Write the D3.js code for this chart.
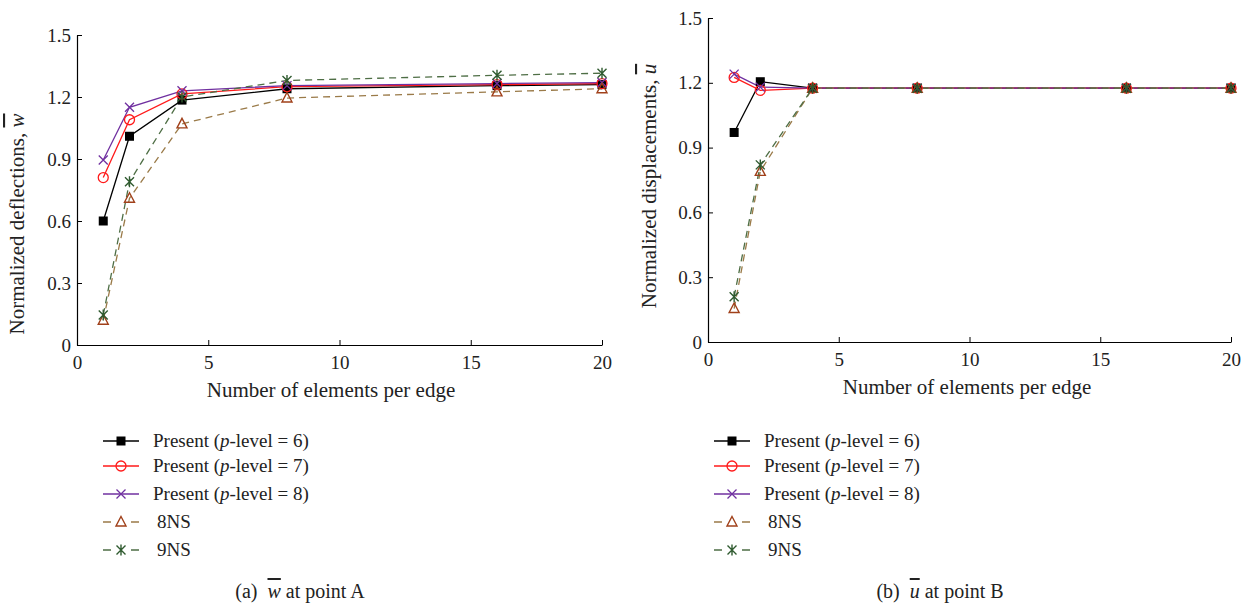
<!DOCTYPE html>
<html><head><meta charset="utf-8">
<script src="https://cdn.jsdelivr.net/npm/d3@7"></script>
<style>
body{margin:0;background:#fff;}
text{font-family:"Liberation Serif","DejaVu Serif",serif;fill:#222;}
</style></head>
<body><svg id="c" width="1251" height="607"></svg>
<script>
const elements = [1, 2, 4, 8, 16, 20];
const xTicks = [0, 5, 10, 15, 20];
const yTicks = [0, 0.3, 0.6, 0.9, 1.2, 1.5];
const yTickLabels = ["0", "0.3", "0.6", "0.9", "1.2", "1.5"];

// (a) normalized deflections at point A
const wP6 = [0.60, 1.01, 1.185, 1.24, 1.255, 1.26];
const wP7 = [0.81, 1.09, 1.215, 1.25, 1.26, 1.265];
const wP8 = [0.895, 1.15, 1.23, 1.255, 1.265, 1.27];
const w8NS = [0.12, 0.71, 1.07, 1.195, 1.225, 1.24];
const w9NS = [0.145, 0.79, 1.20, 1.28, 1.305, 1.315];

// (b) normalized displacements at point B
const uP6 = [0.97, 1.205, 1.175, 1.175, 1.175, 1.175];
const uP7 = [1.225, 1.165, 1.175, 1.175, 1.175, 1.175];
const uP8 = [1.24, 1.18, 1.175, 1.175, 1.175, 1.175];
const u8NS = [0.155, 0.79, 1.175, 1.175, 1.175, 1.175];
const u9NS = [0.21, 0.82, 1.175, 1.175, 1.175, 1.175];

const seriesNames = ["Present (p-level = 6)", "Present (p-level = 7)", "Present (p-level = 8)", "8NS", "9NS"];

const styles = [
  {line:"#000000", mark:"#000000", dash:null, m:"square"},
  {line:"#ff1a1a", mark:"#ff1a1a", dash:null, m:"circle"},
  {line:"#7030a0", mark:"#7030a0", dash:null, m:"x"},
  {line:"#9a7a48", mark:"#a0401a", dash:"7,5", m:"tri"},
  {line:"#4e6e45", mark:"#2f5a2f", dash:"7,5", m:"star"}
];

const svg = d3.select("#c");

function marker(g, type, cx, cy, col){
  if(type==="square"){
    g.append("rect").attr("x",cx-4.5).attr("y",cy-4.5).attr("width",9).attr("height",9).attr("fill",col);
  } else if(type==="circle"){
    g.append("circle").attr("cx",cx).attr("cy",cy).attr("r",5).attr("fill","none").attr("stroke",col).attr("stroke-width",1.3);
  } else if(type==="x"){
    g.append("path").attr("d",`M${cx-4.5},${cy-4.5}L${cx+4.5},${cy+4.5}M${cx-4.5},${cy+4.5}L${cx+4.5},${cy-4.5}`).attr("stroke",col).attr("stroke-width",1.3);
  } else if(type==="tri"){
    g.append("path").attr("d",`M${cx},${cy-5.5}L${cx+5},${cy+4}L${cx-5},${cy+4}Z`).attr("fill","none").attr("stroke",col).attr("stroke-width",1.4);
  } else if(type==="star"){
    g.append("path").attr("d",`M${cx-4.5},${cy-4.5}L${cx+4.5},${cy+4.5}M${cx-4.5},${cy+4.5}L${cx+4.5},${cy-4.5}M${cx},${cy-5.5}L${cx},${cy+5.5}`).attr("stroke",col).attr("stroke-width",1.4);
  }
}

function panel(cfg){
  const x = d3.scaleLinear().domain([0,20]).range([cfg.x0, cfg.x1]);
  const y = d3.scaleLinear().domain([0,1.5]).range([cfg.y0, cfg.y1]);
  const g = svg.append("g");

  const xa = g.append("g").attr("transform",`translate(0,${cfg.y0})`)
    .call(d3.axisBottom(x).tickValues(xTicks).tickSizeInner(-5).tickSizeOuter(0).tickPadding(11));
  const ya = g.append("g").attr("transform",`translate(${cfg.x0},0)`)
    .call(d3.axisLeft(y).tickValues(yTicks).tickFormat((d,i)=>yTickLabels[i]).tickSizeInner(-5).tickSizeOuter(0).tickPadding(6));
  [xa,ya].forEach(a=>{
    a.select(".domain").attr("stroke","#000").attr("stroke-width",1.2);
    a.selectAll(".tick line").attr("stroke","#000").attr("stroke-width",1);
    a.selectAll("text").attr("font-size",19).attr("font-family","Liberation Serif").attr("fill","#222");
  });

  g.append("text").attr("x",cfg.xtx).attr("y",cfg.y0+52).attr("text-anchor","middle")
    .attr("font-size",21).text("Number of elements per edge");

  const yt = g.append("text").attr("transform",`translate(${cfg.ytx},${cfg.yty}) rotate(-90)`)
    .attr("text-anchor","middle").attr("font-size",21);
  yt.append("tspan").text(cfg.ytitle);
  yt.append("tspan").attr("font-style","italic").attr("text-decoration","overline").text(cfg.sym);

  const line = d3.line().x((d,i)=>x(elements[i])).y(d=>y(d));
  cfg.data.forEach((arr,k)=>{
    const s = styles[k];
    g.append("path").datum(arr).attr("d",line).attr("fill","none")
      .attr("stroke",s.line).attr("stroke-width",1.3).attr("stroke-dasharray",s.dash);
  });
  cfg.data.forEach((arr,k)=>{
    const s = styles[k];
    arr.forEach((v,i)=>marker(g,s.m,x(elements[i]),y(v),s.mark));
  });

  // legend
  const rows = [441,466,494,522,550];
  seriesNames.forEach((name,k)=>{
    const s = styles[k];
    const lx = cfg.lx, ry = rows[k];
    if(s.dash){
      g.append("path").attr("d",`M${lx},${ry}L${lx+8},${ry}M${lx+28},${ry}L${lx+36},${ry}`).attr("stroke",s.line).attr("stroke-width",1.3);
    } else {
      g.append("path").attr("d",`M${lx},${ry}L${lx+36},${ry}`).attr("stroke",s.line).attr("stroke-width",1.3);
    }
    marker(g,s.m,lx+18,ry,s.mark);
    const t = g.append("text").attr("x",lx+50 + (s.dash?4:0)).attr("y",ry+6).attr("font-size",19);
    if(name.startsWith("Present")){
      t.append("tspan").text("Present (");
      t.append("tspan").attr("font-style","italic").text("p");
      t.append("tspan").text(name.slice(10));
    } else t.text(name);
  });

  const cap = g.append("text").attr("x",cfg.capx).attr("y",598).attr("text-anchor","middle").attr("font-size",20);
  cap.append("tspan").text(cfg.capLabel+"\u00a0\u00a0");
  cap.append("tspan").attr("font-style","italic").attr("text-decoration","overline").text(cfg.sym);
  cap.append("tspan").text(" at point "+cfg.pt);
}

panel({x0:77,x1:602,y0:345,y1:35,ytx:24,yty:224,xtx:331,lx:103,ytitle:"Normalized deflections, ",sym:"w",
  data:[wP6,wP7,wP8,w8NS,w9NS],capx:300,capLabel:"(a)",pt:"A"});
panel({x0:708,x1:1231,y0:342,y1:18,ytx:656,yty:186,xtx:967,lx:714,ytitle:"Normalized displacements, ",sym:"u",
  data:[uP6,uP7,uP8,u8NS,u9NS],capx:940,capLabel:"(b)",pt:"B"});
</script></body></html>
